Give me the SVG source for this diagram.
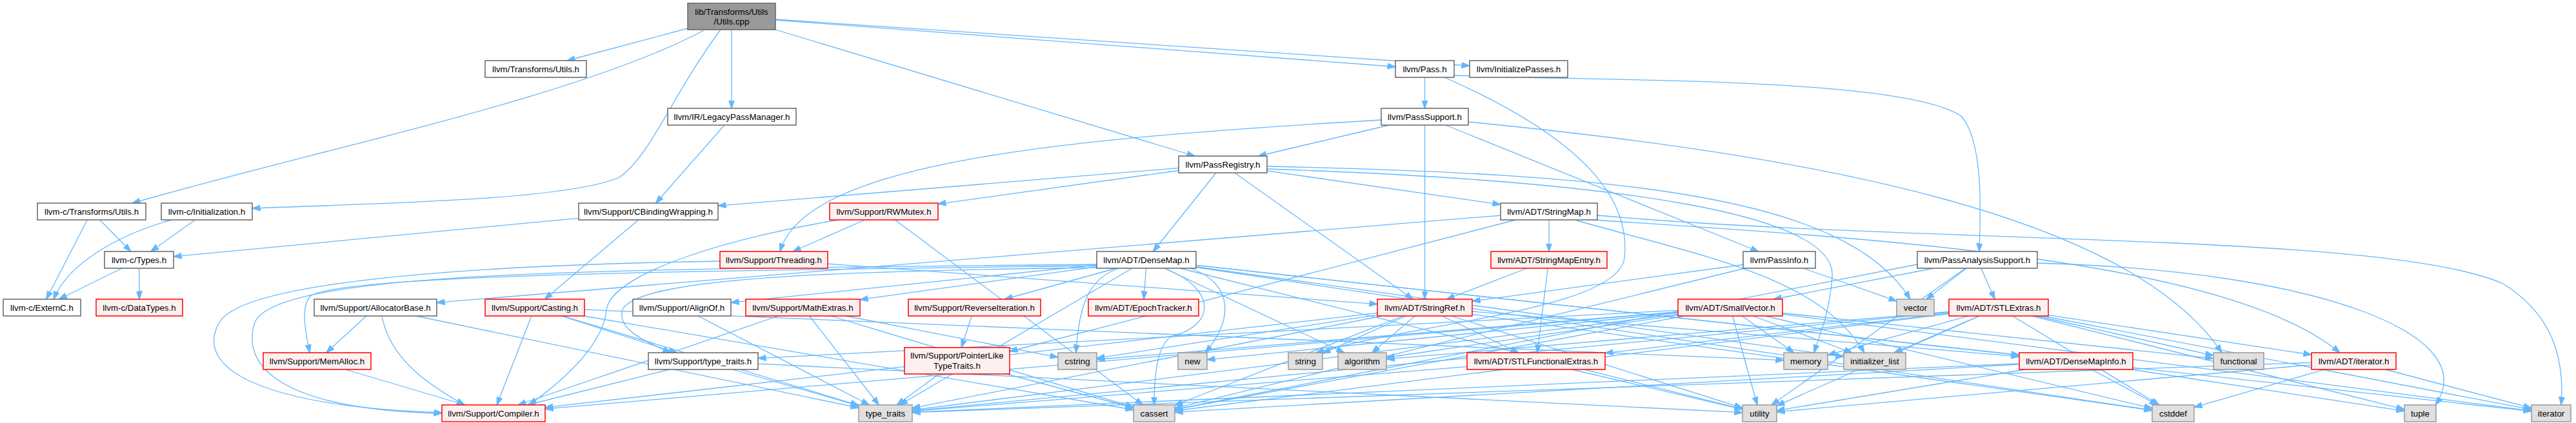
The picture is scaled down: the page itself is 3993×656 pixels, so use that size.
<svg xmlns="http://www.w3.org/2000/svg" width="3993" height="656" viewBox="0 0 3993 656">
<defs>
<marker id="ah" viewBox="0 0 13 10" refX="12.5" refY="5" markerWidth="13" markerHeight="10" orient="auto" markerUnits="userSpaceOnUse"><path d="M0,0.5 L13,5 L0,9.5 Z" fill="#63b8ff" stroke="#63b8ff" stroke-width="1"/></marker>
</defs>
<style>
.e{fill:none;stroke:#63b8ff;stroke-width:1.3;marker-end:url(#ah)}
.nw rect{fill:#ffffff;stroke:#666666;stroke-width:1.5}
.nt rect{fill:#fff0f0;stroke:#ff0000;stroke-width:1.5}
.ns rect{fill:#e0e0e0;stroke:#999999;stroke-width:1.5}
.nr rect{fill:#999999;stroke:#666666;stroke-width:1.5}
text{font-family:"Liberation Sans",Arial,Helvetica,sans-serif;font-size:13.33px;fill:#000000;text-anchor:middle}
</style>
<rect x="0" y="0" width="3993" height="656" fill="#ffffff"/>
<g id="edges">
<path class="e" d="M1066,44 L879,94"/>
<path class="e" d="M1093,46 C900,150 500,230 205,315"/>
<path class="e" d="M1117,46 C1040,150 1010,240 960,275 C880,310 600,315 391,323"/>
<path class="e" d="M1134,46 L1134,168"/>
<path class="e" d="M1202,46 L1852,242"/>
<path class="e" d="M1202,31 L2163,103.5"/>
<path class="e" d="M1202,30 L2278,102"/>
<path class="e" d="M2208.5,120 L2208.5,168"/>
<path class="e" d="M2254,117 C2500,126 2950,120 3040,180 C3075,220 3070,330 3068,390"/>
<path class="e" d="M2239,120 C2420,200 2530,290 2518,400 C2508,480 2200,500 2040,547"/>
<path class="e" d="M2153.5,194 L1950.5,242"/>
<path class="e" d="M2141,186 C1650,215 1250,250 1209,390"/>
<path class="e" d="M2208.5,194 L2208.5,464"/>
<path class="e" d="M2240.7,194 L2725.8,390"/>
<path class="e" d="M2276,189 C2800,240 3300,330 3444,547"/>
<path class="e" d="M1827,260.6 L1113,319.1"/>
<path class="e" d="M1827,264.5 L1454,316.3"/>
<path class="e" d="M1885,268 L1787.4,390"/>
<path class="e" d="M1913.8,268 L2190.2,464"/>
<path class="e" d="M1964,264.9 L2326,317.2"/>
<path class="e" d="M1964,258 C2500,270 2860,300 2961,464"/>
<path class="e" d="M1964,262 C2500,280 2850,330 2840,430 C2835,490 2820,520 2812,547"/>
<path class="e" d="M1123,194 L1016.5,315"/>
<path class="e" d="M135.3,341 L71.7,464"/>
<path class="e" d="M154.7,341 L202.8,390"/>
<path class="e" d="M266,341 C180,365 105,410 83,464"/>
<path class="e" d="M302.3,341 L233.7,390"/>
<path class="e" d="M215.5,416 L216,464"/>
<path class="e" d="M189,416 L91.4,464"/>
<path class="e" d="M897,338.3 L269,397.9"/>
<path class="e" d="M989.6,341 L844.4,464"/>
<path class="e" d="M1340.4,341 L1229,390"/>
<path class="e" d="M1300,341 C1150,365 950,420 940,480 C935,540 860,600 820,628"/>
<path class="e" d="M1387.4,341 L1771.6,628"/>
<path class="e" d="M2401,341 L2401,390"/>
<path class="e" d="M2326,334.1 L677,469.2"/>
<path class="e" d="M2349.5,341 L1565,545"/>
<path class="e" d="M2444,342 C2650,400 2820,430 2890,547"/>
<path class="e" d="M2476,334 C3000,380 3700,360 3880,440 C3960,490 3975,560 3970,628"/>
<path class="e" d="M2470,341 C2900,370 3450,400 3627,547"/>
<path class="e" d="M1116,405 C800,410 380,430 340,500 C300,570 400,630 685,640"/>
<path class="e" d="M1283,409.1 L2135,471.6"/>
<path class="e" d="M1854,411.4 L3130,550.4"/>
<path class="e" d="M1776.6,416 L1772.9,464"/>
<path class="e" d="M1700,410.9 L1133,469.2"/>
<path class="e" d="M1700,410 C1000,418 430,415 395,500 C375,560 420,635 685,641"/>
<path class="e" d="M1700,413.7 L1333,464.7"/>
<path class="e" d="M1700,412 C1100,420 520,425 480,460 C465,480 475,520 480,547"/>
<path class="e" d="M1730.2,416 L1557.3,464"/>
<path class="e" d="M1700,415 C1300,420 990,430 965,480 C955,510 1000,530 1040,547"/>
<path class="e" d="M1804.7,416 L2083.8,547"/>
<path class="e" d="M1805,416 C1890,450 1880,505 1820,520 C1790,530 1789,600 1789,628"/>
<path class="e" d="M1854,414.5 L3336,636.1"/>
<path class="e" d="M1735,416 C1690,430 1672,470 1668,547"/>
<path class="e" d="M1854,413.7 L2858,553.3"/>
<path class="e" d="M1854,411.4 L3924,637.7"/>
<path class="e" d="M1845,416 C1915,440 1910,500 1868,547"/>
<path class="e" d="M1754.9,416 L1394.6,628"/>
<path class="e" d="M1828.9,416 L2701,634.4"/>
<path class="e" d="M2367.2,416 L2242.3,464"/>
<path class="e" d="M2399.3,416 L2382.7,547"/>
<path class="e" d="M2702,410.5 L2282,467.1"/>
<path class="e" d="M2795.1,416 L2940,466.8"/>
<path class="e" d="M2705.1,416 L1821,633.1"/>
<path class="e" d="M2997.7,416 L2749.3,464"/>
<path class="e" d="M3048.1,416 L2985.9,464"/>
<path class="e" d="M3070.8,416 L3092.2,464"/>
<path class="e" d="M3158,408 C3600,420 3850,520 3775,628"/>
<path class="e" d="M2972,410 L1821,635"/>
<path class="e" d="M3046.6,416 L2745.9,628"/>
<path class="e" d="M567.8,490 L505.7,547"/>
<path class="e" d="M592,490 C605,560 670,600 720,628"/>
<path class="e" d="M644.7,490 L1331,632.4"/>
<path class="e" d="M823.9,490 L770.1,628"/>
<path class="e" d="M869.9,490 L1049.1,547"/>
<path class="e" d="M872.1,490 L1331,628.5"/>
<path class="e" d="M905,490 L1757,635.5"/>
<path class="e" d="M906,480.2 L2765,558.6"/>
<path class="e" d="M1082,490 L1347.5,628"/>
<path class="e" d="M1206.5,490 L803,628"/>
<path class="e" d="M1254.6,490 L1362.4,628"/>
<path class="e" d="M1287.7,490 L1757,631.4"/>
<path class="e" d="M1311.1,490 L1640,554.1"/>
<path class="e" d="M1506.2,490 L1490.2,539"/>
<path class="e" d="M2282,483 L3130,552.8"/>
<path class="e" d="M2235.5,490 L2354,547"/>
<path class="e" d="M2135,485.4 L845,631.9"/>
<path class="e" d="M2193.3,490 L2126.7,547"/>
<path class="e" d="M2175.2,490 L1821,628.5"/>
<path class="e" d="M2282,487.4 L3336,636.4"/>
<path class="e" d="M2135,488.3 L1700,555.4"/>
<path class="e" d="M2179.5,490 L2050,548.1"/>
<path class="e" d="M2142.2,490 L1414,632.9"/>
<path class="e" d="M2249.6,490 L2701,632.6"/>
<path class="e" d="M2601,483.9 L845,634.2"/>
<path class="e" d="M2601,481.2 L1175,555.6"/>
<path class="e" d="M2601,488.8 L2149,554.5"/>
<path class="e" d="M2611.2,490 L1821,635.1"/>
<path class="e" d="M2736.4,490 L3336,633.2"/>
<path class="e" d="M2601,483.6 L1700,557.5"/>
<path class="e" d="M2763,485.5 L3431,555.9"/>
<path class="e" d="M2717.1,490 L2870.9,547"/>
<path class="e" d="M2763,487.4 L3924,637.1"/>
<path class="e" d="M2700.3,490 L2780.7,547"/>
<path class="e" d="M2601,485.1 L1871,557.8"/>
<path class="e" d="M2601,487.1 L1414,635.8"/>
<path class="e" d="M2685.6,490 L2723.9,628"/>
<path class="e" d="M3021,485.9 L2488,547.6"/>
<path class="e" d="M3175,488.6 L3583,550.1"/>
<path class="e" d="M3021,483.5 L2149,556.8"/>
<path class="e" d="M3021,486.6 L1821,637"/>
<path class="e" d="M3119.4,490 L3347.1,628"/>
<path class="e" d="M3156.3,490 L3431,551.3"/>
<path class="e" d="M3067.9,490 L2936.1,547"/>
<path class="e" d="M3165.9,490 L3924,635.2"/>
<path class="e" d="M3051.2,490 L2833,550.6"/>
<path class="e" d="M3149.8,490 L3727,634.9"/>
<path class="e" d="M3021,484.3 L1414,637.1"/>
<path class="e" d="M3068.6,490 L2754,629.3"/>
<path class="e" d="M535.4,573 L721.1,628"/>
<path class="e" d="M1037.8,573 L817.2,628"/>
<path class="e" d="M1135.3,573 L1331,629.1"/>
<path class="e" d="M1175,564.2 L2701,639.7"/>
<path class="e" d="M1455.6,580 L1390.2,628"/>
<path class="e" d="M1560.3,580 L1757,632.5"/>
<path class="e" d="M2274,568.6 L1414,637.7"/>
<path class="e" d="M2436.6,573 L2701,634.8"/>
<path class="e" d="M3130,565 L1821,639.2"/>
<path class="e" d="M3242.2,573 L3344.3,628"/>
<path class="e" d="M3303.6,573 L3727,637.3"/>
<path class="e" d="M3130,563.9 L1414,639.2"/>
<path class="e" d="M3139.3,573 L2754,636.6"/>
<path class="e" d="M3603.6,573 L3401,631.6"/>
<path class="e" d="M3697.6,573 L3924,632.9"/>
<path class="e" d="M3583,562.3 L1414,639.5"/>
<path class="e" d="M3583,565.8 L2754,638.7"/>
</g>
<g id="n_cpp" class="nr"><rect x="1066" y="5" width="136" height="41"/><text x="1134" y="22.5">lib/Transforms/Utils</text><text x="1134" y="37.5">/Utils.cpp</text></g>
<g id="n_tu" class="nw"><rect x="752" y="94" width="157" height="26"/><text x="830.5" y="111.5">llvm/Transforms/Utils.h</text></g>
<g id="n_pass" class="nw"><rect x="2163" y="94" width="91" height="26"/><text x="2208.5" y="111.5">llvm/Pass.h</text></g>
<g id="n_init" class="nw"><rect x="2278" y="94" width="152" height="26"/><text x="2354" y="111.5">llvm/InitializePasses.h</text></g>
<g id="n_lpm" class="nw"><rect x="1035" y="168" width="199" height="26"/><text x="1134.5" y="185.5">llvm/IR/LegacyPassManager.h</text></g>
<g id="n_ps" class="nw"><rect x="2141" y="168" width="135" height="26"/><text x="2208.5" y="185.5">llvm/PassSupport.h</text></g>
<g id="n_pr" class="nw"><rect x="1827" y="242" width="137" height="26"/><text x="1895.5" y="259.5">llvm/PassRegistry.h</text></g>
<g id="n_ctu" class="nw"><rect x="58" y="315" width="168" height="26"/><text x="142" y="332.5">llvm-c/Transforms/Utils.h</text></g>
<g id="n_cinit" class="nw"><rect x="250" y="315" width="141" height="26"/><text x="320.5" y="332.5">llvm-c/Initialization.h</text></g>
<g id="n_cbw" class="nw"><rect x="897" y="315" width="216" height="26"/><text x="1005" y="332.5">llvm/Support/CBindingWrapping.h</text></g>
<g id="n_rw" class="nt"><rect x="1286" y="315" width="168" height="26"/><text x="1370" y="332.5">llvm/Support/RWMutex.h</text></g>
<g id="n_sm" class="nw"><rect x="2326" y="315" width="150" height="26"/><text x="2401" y="332.5">llvm/ADT/StringMap.h</text></g>
<g id="n_ctypes" class="nw"><rect x="162" y="390" width="107" height="26"/><text x="215.5" y="407.5">llvm-c/Types.h</text></g>
<g id="n_thr" class="nt"><rect x="1116" y="390" width="167" height="26"/><text x="1199.5" y="407.5">llvm/Support/Threading.h</text></g>
<g id="n_dm" class="nw"><rect x="1700" y="390" width="154" height="26"/><text x="1777" y="407.5">llvm/ADT/DenseMap.h</text></g>
<g id="n_sme" class="nt"><rect x="2311" y="390" width="180" height="26"/><text x="2401" y="407.5">llvm/ADT/StringMapEntry.h</text></g>
<g id="n_pi" class="nw"><rect x="2702" y="390" width="112" height="26"/><text x="2758" y="407.5">llvm/PassInfo.h</text></g>
<g id="n_pas" class="nw"><rect x="2972" y="390" width="186" height="26"/><text x="3065" y="407.5">llvm/PassAnalysisSupport.h</text></g>
<g id="n_extc" class="nw"><rect x="5" y="464" width="120" height="26"/><text x="65" y="481.5">llvm-c/ExternC.h</text></g>
<g id="n_dt" class="nt"><rect x="149" y="464" width="134" height="26"/><text x="216" y="481.5">llvm-c/DataTypes.h</text></g>
<g id="n_ab" class="nw"><rect x="487" y="464" width="190" height="26"/><text x="582" y="481.5">llvm/Support/AllocatorBase.h</text></g>
<g id="n_cast" class="nt"><rect x="752" y="464" width="154" height="26"/><text x="829" y="481.5">llvm/Support/Casting.h</text></g>
<g id="n_align" class="nw"><rect x="981" y="464" width="152" height="26"/><text x="1057" y="481.5">llvm/Support/AlignOf.h</text></g>
<g id="n_math" class="nt"><rect x="1156" y="464" width="177" height="26"/><text x="1244.5" y="481.5">llvm/Support/MathExtras.h</text></g>
<g id="n_rev" class="nt"><rect x="1408" y="464" width="205" height="26"/><text x="1510.5" y="481.5">llvm/Support/ReverseIteration.h</text></g>
<g id="n_epoch" class="nt"><rect x="1687" y="464" width="171" height="26"/><text x="1772.5" y="481.5">llvm/ADT/EpochTracker.h</text></g>
<g id="n_sr" class="nt"><rect x="2135" y="464" width="147" height="26"/><text x="2208.5" y="481.5">llvm/ADT/StringRef.h</text></g>
<g id="n_sv" class="nt"><rect x="2601" y="464" width="162" height="26"/><text x="2682" y="481.5">llvm/ADT/SmallVector.h</text></g>
<g id="n_vec" class="ns"><rect x="2940" y="464" width="58" height="26"/><text x="2969" y="481.5">vector</text></g>
<g id="n_stlx" class="nt"><rect x="3021" y="464" width="154" height="26"/><text x="3098" y="481.5">llvm/ADT/STLExtras.h</text></g>
<g id="n_mem" class="nt"><rect x="408" y="547" width="167" height="26"/><text x="491.5" y="564.5">llvm/Support/MemAlloc.h</text></g>
<g id="n_tt" class="nw"><rect x="1005" y="547" width="170" height="26"/><text x="1090" y="564.5">llvm/Support/type_traits.h</text></g>
<g id="n_plt" class="nt"><rect x="1402" y="539" width="163" height="41"/><text x="1483.5" y="556">llvm/Support/PointerLike</text><text x="1483.5" y="571.5">TypeTraits.h</text></g>
<g id="n_cstring" class="ns"><rect x="1640" y="547" width="60" height="26"/><text x="1670" y="564.5">cstring</text></g>
<g id="n_new" class="ns"><rect x="1826" y="547" width="45" height="26"/><text x="1848.5" y="564.5">new</text></g>
<g id="n_string" class="ns"><rect x="1997" y="547" width="53" height="26"/><text x="2023.5" y="564.5">string</text></g>
<g id="n_algo" class="ns"><rect x="2074" y="547" width="75" height="26"/><text x="2111.5" y="564.5">algorithm</text></g>
<g id="n_sfe" class="nt"><rect x="2274" y="547" width="214" height="26"/><text x="2381" y="564.5">llvm/ADT/STLFunctionalExtras.h</text></g>
<g id="n_memory" class="ns"><rect x="2765" y="547" width="68" height="26"/><text x="2799" y="564.5">memory</text></g>
<g id="n_il" class="ns"><rect x="2858" y="547" width="96" height="26"/><text x="2906" y="564.5">initializer_list</text></g>
<g id="n_dmi" class="nt"><rect x="3130" y="547" width="176" height="26"/><text x="3218" y="564.5">llvm/ADT/DenseMapInfo.h</text></g>
<g id="n_func" class="ns"><rect x="3431" y="547" width="78" height="26"/><text x="3470" y="564.5">functional</text></g>
<g id="n_iterh" class="nt"><rect x="3583" y="547" width="131" height="26"/><text x="3648.5" y="564.5">llvm/ADT/iterator.h</text></g>
<g id="n_comp" class="nt"><rect x="685" y="628" width="160" height="26"/><text x="765" y="645.5">llvm/Support/Compiler.h</text></g>
<g id="n_ttstd" class="ns"><rect x="1331" y="628" width="83" height="26"/><text x="1372.5" y="645.5">type_traits</text></g>
<g id="n_cassert" class="ns"><rect x="1757" y="628" width="64" height="26"/><text x="1789" y="645.5">cassert</text></g>
<g id="n_util" class="ns"><rect x="2701" y="628" width="53" height="26"/><text x="2727.5" y="645.5">utility</text></g>
<g id="n_cstddef" class="ns"><rect x="3336" y="628" width="65" height="26"/><text x="3368.5" y="645.5">cstddef</text></g>
<g id="n_tuple" class="ns"><rect x="3727" y="628" width="49" height="26"/><text x="3751.5" y="645.5">tuple</text></g>
<g id="n_iter" class="ns"><rect x="3924" y="628" width="61" height="26"/><text x="3954.5" y="645.5">iterator</text></g>
</svg>
